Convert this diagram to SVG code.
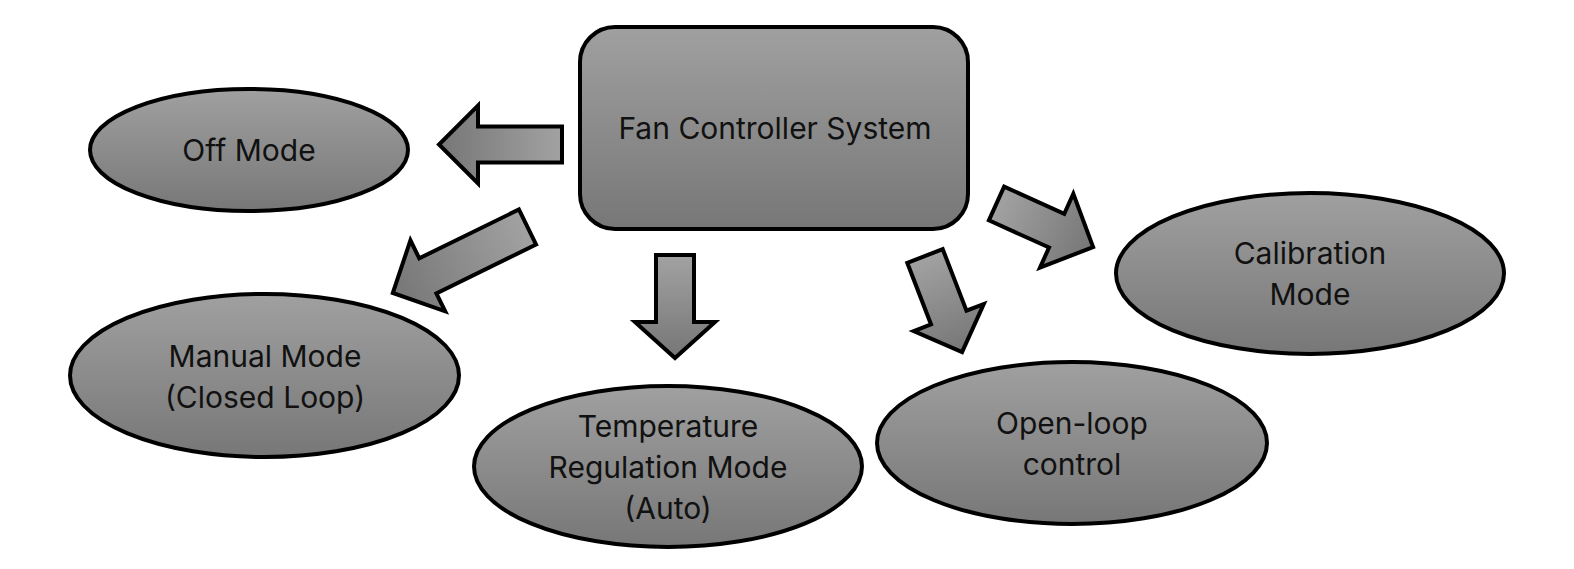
<svg xmlns="http://www.w3.org/2000/svg" width="1574" height="569" viewBox="0 0 1574 569">
  <defs>
    <linearGradient id="gShape" x1="0" y1="0" x2="0" y2="1">
      <stop offset="0" stop-color="#a0a0a0"/>
      <stop offset="1" stop-color="#777777"/>
    </linearGradient>
    <linearGradient id="gArrow" x1="0" y1="0" x2="1" y2="0">
      <stop offset="0" stop-color="#a2a2a2"/>
      <stop offset="1" stop-color="#767676"/>
    </linearGradient>
  </defs>
  <style>
    .shape { fill: url(#gShape); stroke: #000; stroke-width: 4; }
    .arrow { fill: url(#gArrow); stroke: #000; stroke-width: 4; stroke-linejoin: miter; }
    .label { font-family: Inter, "Liberation Sans", sans-serif; font-size: 30px; fill: #111; text-anchor: middle; }
  </style>
  <rect width="1574" height="569" fill="#ffffff"/>

  <g id="connectors">
    <path id="arrow-off" class="arrow" transform="translate(562,144.5) rotate(180)" d="M0,-18 L84,-18 L84,-39 L123,0 L84,39 L84,18 L0,18 Z"/>
    <path id="arrow-manual" class="arrow" transform="translate(527.5,227) rotate(153.9)" d="M0,-19.5 L111,-19.5 L111,-39.5 L150,0 L111,39.5 L111,19.5 L0,19.5 Z"/>
    <path id="arrow-temp" class="arrow" transform="translate(675,255) rotate(90)" d="M0,-19 L67,-19 L67,-40 L103,0 L67,40 L67,19 L0,19 Z"/>
    <path id="arrow-open" class="arrow" transform="translate(925,256) rotate(68.9)" d="M0,-19 L66,-19 L66,-37.5 L103,0 L66,37.5 L66,19 L0,19 Z"/>
    <path id="arrow-cal" class="arrow" transform="translate(996.5,203.5) rotate(24.3)" d="M0,-18.5 L66,-18.5 L66,-40.5 L106,0 L66,40.5 L66,18.5 L0,18.5 Z"/>
  </g>

  <g id="node-fan-controller">
    <rect class="shape" x="580" y="27" width="388" height="202" rx="35" ry="35"/>
    <text class="label" x="775" y="139">Fan Controller System</text>
  </g>

  <g id="node-off-mode">
    <ellipse class="shape" cx="249" cy="150" rx="159" ry="61"/>
    <text class="label" x="249" y="161">Off Mode</text>
  </g>

  <g id="node-manual-mode">
    <ellipse class="shape" cx="264.5" cy="375.5" rx="194.5" ry="81.5"/>
    <text class="label" x="265" y="367">Manual Mode</text>
    <text class="label" x="265" y="408">(Closed Loop)</text>
  </g>

  <g id="node-temperature">
    <ellipse class="shape" cx="668" cy="466.5" rx="194" ry="80.5"/>
    <text class="label" x="668" y="437">Temperature</text>
    <text class="label" x="668" y="478">Regulation Mode</text>
    <text class="label" x="668" y="519">(Auto)</text>
  </g>

  <g id="node-open-loop">
    <ellipse class="shape" cx="1072" cy="443" rx="195" ry="81"/>
    <text class="label" x="1072" y="434">Open-loop</text>
    <text class="label" x="1072" y="475">control</text>
  </g>

  <g id="node-calibration">
    <ellipse class="shape" cx="1310" cy="273.5" rx="194" ry="80.5"/>
    <text class="label" x="1310" y="264">Calibration</text>
    <text class="label" x="1310" y="305">Mode</text>
  </g>
</svg>
